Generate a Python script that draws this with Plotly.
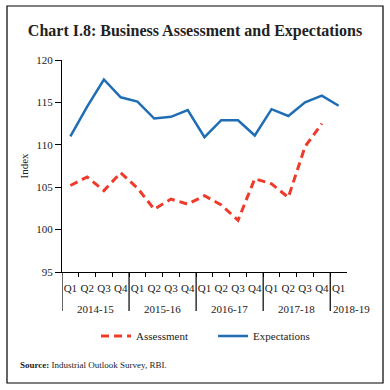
import plotly.graph_objects as go

years = ["2014-15", "2015-16", "2016-17", "2017-18", "2018-19"]
quarters = ["Q1", "Q2", "Q3", "Q4"] * 4 + ["Q1"]
assessment = [105.2, 106.2, 104.6, 106.7, 104.9, 102.4, 103.6, 103.0, 104.0, 102.9, 101.1,
              106.0, 105.4, 103.8, 109.8, 112.5, None]
expectations = [111.0, 114.5, 117.7, 115.6, 115.1, 113.1, 113.3, 114.1, 110.9, 112.9, 112.9,
                111.1, 114.2, 113.4, 115.0, 115.8, 114.6]

FONT = "Liberation Serif"
BLUE = "#1f6db4"
RED = "#ee3b2b"
TXT = "#222"

L, R, T, B = 62, 43, 60, 118
W = H = 390
pw, ph = W - L - R, H - T - B

def px_x(x):
    return (x - L) / pw

def px_y(y):
    return (H - B - y) / ph

idx = list(range(len(quarters)))

fig = go.Figure()
fig.add_trace(go.Scatter(x=idx, y=assessment, mode="lines", name="Assessment",
                         line=dict(color=RED, width=3, dash="8px,5px")))
fig.add_trace(go.Scatter(x=idx, y=expectations, mode="lines", name="Expectations",
                         line=dict(color=BLUE, width=2.5)))

fig.update_layout(
    width=W, height=H,
    margin=dict(l=L, r=R, t=T, b=B, autoexpand=False),
    paper_bgcolor="white", plot_bgcolor="white",
    font=dict(family=FONT, size=11, color=TXT),
    title=dict(text="<b>Chart I.8: Business Assessment and Expectations</b>",
               x=0.5, xanchor="center", y=1 - 30 / H, yanchor="middle",
               font=dict(family=FONT, size=16, color=TXT)),
    showlegend=True,
    legend=dict(orientation="h", x=0.53, xanchor="center", y=px_y(336), yanchor="middle",
                font=dict(family=FONT, size=11), entrywidth=72, itemwidth=30),
    xaxis=dict(range=[-0.5, 16.5], showline=True, linecolor="black", linewidth=1.2,
               tickmode="array", tickvals=idx, ticktext=quarters, ticks="",
               ticklabelstandoff=6,
               minor=dict(tickmode="array", tickvals=[i + 0.5 for i in idx[:-1]],
                          ticks="outside", ticklen=4, tickcolor="black", tickwidth=1),
               showgrid=False, zeroline=False, automargin=False,
               tickfont=dict(family=FONT, size=11, color=TXT)),
    yaxis=dict(range=[95, 120], dtick=5, showline=True, linecolor="black", linewidth=1.2,
               ticks="outside", ticklen=6, tickcolor="black", showgrid=False, zeroline=False,
               automargin=False,
               tickfont=dict(family=FONT, size=11, color=TXT),
               title=dict(text="Index", standoff=5, font=dict(family=FONT, size=11))),
)

# year group dividers and labels
bounds = [-0.5, 3.5, 7.5, 11.5, 15.5]
for b in bounds:
    fig.add_shape(type="line", xref="x", yref="paper", x0=b, x1=b, y0=0, y1=px_y(311),
                  line=dict(color="black", width=1.2))
centers = [1.5, 5.5, 9.5, 13.5]
for c, yr in zip(centers, years[:4]):
    fig.add_annotation(xref="x", yref="paper", x=c, y=px_y(309), text=yr, showarrow=False,
                       xanchor="center", yanchor="middle", font=dict(family=FONT, size=11, color=TXT))
fig.add_annotation(xref="x", yref="paper", x=15.5, y=px_y(309), text=years[4], showarrow=False,
                   xanchor="left", yanchor="middle", xshift=1,
                   font=dict(family=FONT, size=11, color=TXT))

fig.add_shape(type="rect", xref="paper", yref="paper",
              x0=px_x(7), x1=px_x(383), y0=px_y(383), y1=px_y(6),
              line=dict(color="black", width=1.2), fillcolor="rgba(0,0,0,0)")

fig.add_annotation(xref="paper", yref="paper", x=px_x(18), y=px_y(365), xanchor="left",
                   yanchor="middle", showarrow=False,
                   text="<b>Source:</b> Industrial Outlook Survey, RBI.",
                   font=dict(family=FONT, size=9, color=TXT))

fig.write_html("out.html", config={"displayModeBar": False},
               post_script="document.body.style.margin='0';")
